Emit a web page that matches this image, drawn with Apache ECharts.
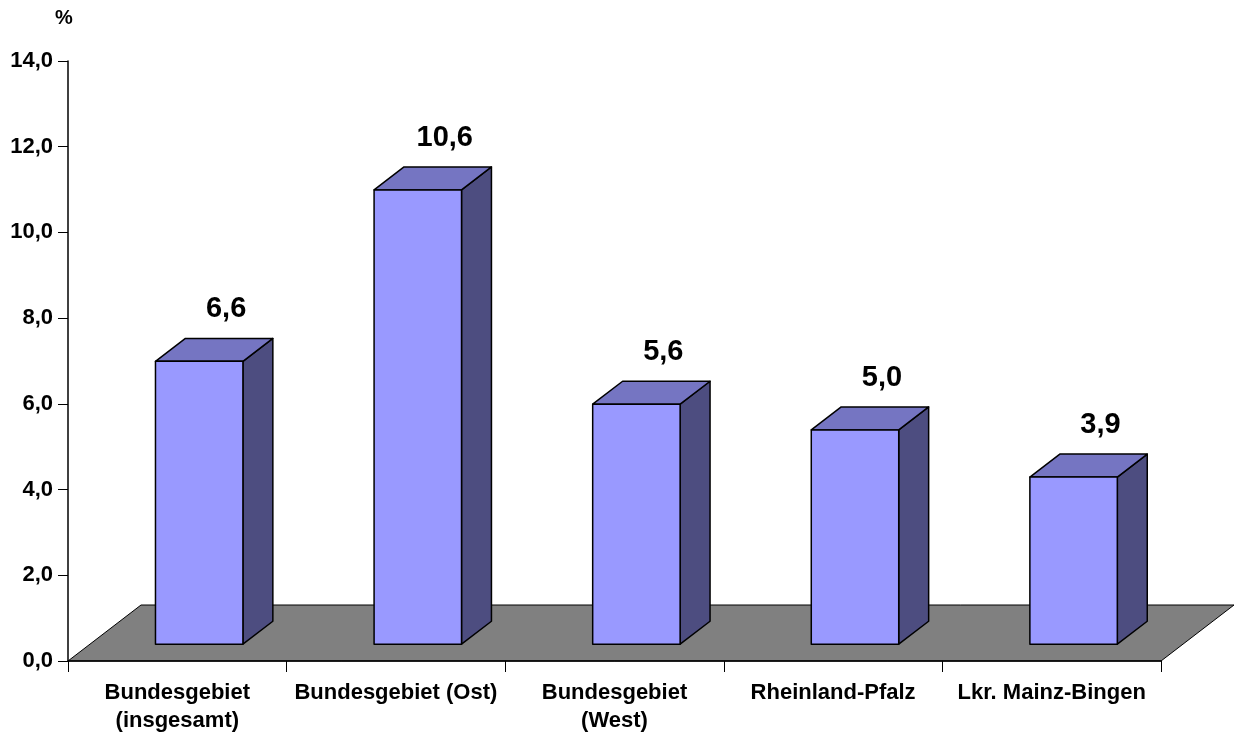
<!DOCTYPE html>
<html>
<head>
<meta charset="utf-8">
<script src="https://cdn.jsdelivr.net/npm/echarts@6/dist/echarts.min.js"></script>
<style>
  html, body { margin: 0; padding: 0; background: #fff; }
  #chart { width: 1234px; height: 735px; }
</style>
</head>
<body>
<div id="chart"></div>
<script>
// ---- data ----
const categories = [
  'Bundesgebiet\n(insgesamt)',
  'Bundesgebiet (Ost)',
  'Bundesgebiet\n(West)',
  'Rheinland-Pfalz',
  'Lkr. Mainz-Bingen'
];
const values = [6.6, 10.6, 5.6, 5.0, 3.9];
const yMin = 0;
const yMax = 14;
const yStep = 2;
const unitLabel = '%';

// ---- style constants ----
const FONT = "'Liberation Sans', Arial, Helvetica, sans-serif";
const DEPTH = [73, -56];      // projected floor depth vector (px)
const FRONT = 0.3;            // bar front plane position within depth
const BAR_DEPTH = 0.41;       // bar depth as fraction of floor depth
const BAR_RATIO = 0.4;        // bar width / category width
const COLORS = { front: '#9999ff', top: '#7575c2', side: '#4d4d80', floor: '#808080' };

function fmt(v) { return Number(v).toFixed(1).replace('.', ','); }

function renderFloor(params, api) {
  const cs = params.coordSys;
  const y0 = api.coord([0, 0])[1];
  const xl = cs.x, xr = cs.x + cs.width;
  return {
    type: 'polygon',
    z2: 0,
    shape: { points: [[xl, y0], [xr, y0], [xr + DEPTH[0], y0 + DEPTH[1]], [xl + DEPTH[0], y0 + DEPTH[1]]] },
    style: { fill: COLORS.floor, stroke: '#000', lineWidth: 1 }
  };
}

function renderBar(params, api) {
  const i = api.value(0), v = api.value(1);
  const base = api.coord([i, 0]);
  const top = api.coord([i, v]);
  const band = api.size([1, 0])[0];
  const w = band * BAR_RATIO;
  const ox = DEPTH[0] * FRONT, oy = DEPTH[1] * FRONT;
  const dx = DEPTH[0] * BAR_DEPTH, dy = DEPTH[1] * BAR_DEPTH;
  const x1 = base[0] - w / 2 + ox, x2 = base[0] + w / 2 + ox;
  const yb = base[1] + oy, yt = top[1] + oy;
  const edge = { stroke: '#000', lineWidth: 1.5, lineJoin: 'round' };
  return {
    type: 'group',
    children: [
      { type: 'polygon', shape: { points: [[x2, yb], [x2 + dx, yb + dy], [x2 + dx, yt + dy], [x2, yt]] },
        style: Object.assign({ fill: COLORS.side }, edge) },
      { type: 'polygon', shape: { points: [[x1, yt], [x2, yt], [x2 + dx, yt + dy], [x1 + dx, yt + dy]] },
        style: Object.assign({ fill: COLORS.top }, edge) },
      { type: 'rect', shape: { x: x1, y: yt, width: x2 - x1, height: yb - yt },
        style: Object.assign({ fill: COLORS.front }, edge) },
      { type: 'text', x: (x1 + x2) / 2 + dx - 3, y: yt + dy - 29,
        style: { text: fmt(v), fill: '#000', font: 'bold 29px ' + FONT, align: 'center', verticalAlign: 'middle' } }
    ]
  };
}

const chart = echarts.init(document.getElementById('chart'), null, { renderer: 'canvas' });
chart.setOption({
  backgroundColor: '#ffffff',
  animation: false,
  grid: { left: 68, right: 73, top: 61, bottom: 72, containLabel: false },
  xAxis: {
    type: 'category',
    data: categories,
    z: 5,
    axisLine: { show: true, lineStyle: { color: '#000', width: 1.5 } },
    axisTick: { show: true, length: 11, lineStyle: { color: '#000', width: 1 } },
    axisLabel: { color: '#000', fontFamily: FONT, fontWeight: 'bold', fontSize: 22, lineHeight: 28, margin: 18, interval: 0 },
    splitLine: { show: false }
  },
  yAxis: {
    type: 'value',
    min: yMin, max: yMax, interval: yStep,
    name: unitLabel,
    nameLocation: 'end',
    nameGap: 33,
    nameTextStyle: { color: '#000', fontFamily: FONT, fontWeight: 'bold', fontSize: 20, padding: [0, 8, 0, 0] },
    axisLine: { show: true, lineStyle: { color: '#000', width: 1.5 } },
    axisTick: { show: true, length: 10, lineStyle: { color: '#000', width: 1 } },
    axisLabel: { color: '#000', fontFamily: FONT, fontWeight: 'bold', fontSize: 22, margin: 15, formatter: fmt },
    splitLine: { show: false }
  },
  series: [
    { type: 'custom', z: 1, renderItem: renderFloor, data: [[0, 0]], silent: true },
    { type: 'custom', z: 2, renderItem: renderBar, data: values.map((v, i) => [i, v]), silent: true }
  ]
});
</script>
</body>
</html>
